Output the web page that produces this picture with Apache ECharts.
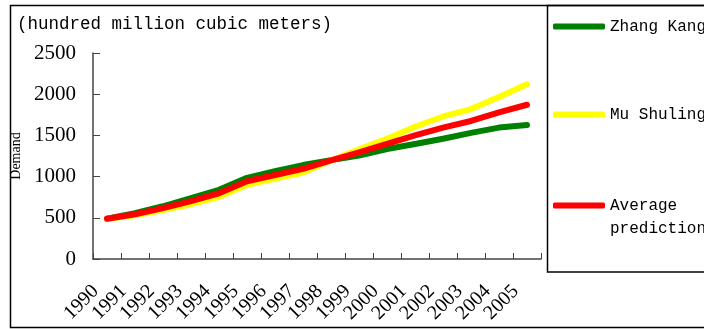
<!DOCTYPE html>
<html>
<head>
<meta charset="utf-8">
<script src="https://cdn.jsdelivr.net/npm/echarts@6/dist/echarts.min.js"></script>
<style>
  html, body { margin: 0; padding: 0; background: #fff; }
  #chart { width: 704px; height: 329px; }
</style>
</head>
<body>
<div id="chart"></div>
<script>
// Water demand forecasts, 1990-2005 (hundred million cubic meters)
const years = ['1990','1991','1992','1993','1994','1995','1996','1997',
               '1998','1999','2000','2001','2002','2003','2004','2005'];
const zhangKang   = [490, 555, 640, 740, 840, 985, 1065, 1140, 1200, 1255, 1335, 1395, 1460, 1530, 1595, 1625];
const muShuling   = [485, 530, 595, 665, 755, 900, 975, 1050, 1195, 1330, 1460, 1605, 1730, 1820, 1965, 2120];
const averagePred = [488, 543, 618, 703, 798, 943, 1020, 1095, 1198, 1293, 1398, 1500, 1595, 1675, 1780, 1872];
const yTicks = { min: 0, max: 2500, interval: 500 };

const serif = '"Liberation Serif", "DejaVu Serif", serif';
const mono = '"Liberation Mono", "DejaVu Sans Mono", monospace';
const axisColor = '#444';

function lineSeries(name, data, color) {
  return {
    name: name,
    type: 'line',
    data: data,
    showSymbol: false,
    symbol: 'none',
    lineStyle: { color: color, width: 6, cap: 'round', join: 'round' },
    itemStyle: { color: color },
    emphasis: { disabled: true },
    animation: false
  };
}

function legendAt(name, top, extra) {
  return Object.assign({
    data: [name],
    orient: 'vertical',
    left: 548,
    top: top,
    icon: 'roundRect',
    itemWidth: 52,
    itemHeight: 6,
    selectedMode: false,
    textStyle: { fontFamily: mono, fontSize: 16, color: '#000', lineHeight: 23 }
  }, extra || {});
}

const chart = echarts.init(document.getElementById('chart'), null, { renderer: 'canvas' });
chart.setOption({
  backgroundColor: '#fff',
  animation: false,
  title: {
    text: '(hundred million cubic meters)',
    left: 12,
    top: 10,
    textStyle: { fontFamily: mono, fontSize: 17.5, fontWeight: 'normal', color: '#000' }
  },
  grid: {
    left: 93, right: 163, top: 53, bottom: 70,
    containLabel: false,
    outerBoundsMode: 'none'
  },
  legend: [
    legendAt('Zhang Kang', 10),
    legendAt('Mu Shuling', 98),
    // leading blank line keeps the icon level with the first text line
    legendAt('Average prediction', 166, {
      formatter: function () { return ' \nAverage\nprediction'; }
    })
  ],
  xAxis: {
    type: 'category',
    data: years,
    boundaryGap: true,
    axisLine: { lineStyle: { color: axisColor, width: 1.5 } },
    axisTick: { show: true, inside: true, length: 6, lineStyle: { color: axisColor } },
    axisLabel: {
      rotate: 45,
      interval: 0,
      margin: 18,
      fontFamily: serif,
      fontSize: 20,
      color: '#000',
      padding: [0, 16, 31, 0]
    },
    splitLine: { show: false }
  },
  yAxis: {
    type: 'value',
    min: yTicks.min,
    max: yTicks.max,
    interval: yTicks.interval,
    name: 'Demand',
    nameLocation: 'middle',
    nameRotate: 90,
    nameGap: 62,
    nameTextStyle: { fontFamily: serif, fontSize: 14, color: '#000' },
    axisLine: { show: true, lineStyle: { color: axisColor, width: 1.5 } },
    axisTick: { show: true, inside: true, length: 7, lineStyle: { color: axisColor } },
    axisLabel: {
      margin: 17,
      fontFamily: serif,
      fontSize: 21,
      color: '#000',
      formatter: function (v) { return String(v); }
    },
    splitLine: { show: false }
  },
  series: [
    lineSeries('Zhang Kang', zhangKang, '#008000'),
    lineSeries('Mu Shuling', muShuling, '#ffff00'),
    lineSeries('Average prediction', averagePred, '#ff0000')
  ],
  graphic: [
    {
      type: 'rect',
      silent: true,
      shape: { x: 10.5, y: 5.5, width: 760, height: 322 },
      style: { fill: 'none', stroke: '#000', lineWidth: 1.5 }
    },
    {
      type: 'rect',
      silent: true,
      shape: { x: 547.5, y: 5.5, width: 220, height: 266.5 },
      style: { fill: 'none', stroke: '#000', lineWidth: 1.5 }
    }
  ]
});
</script>
</body>
</html>
